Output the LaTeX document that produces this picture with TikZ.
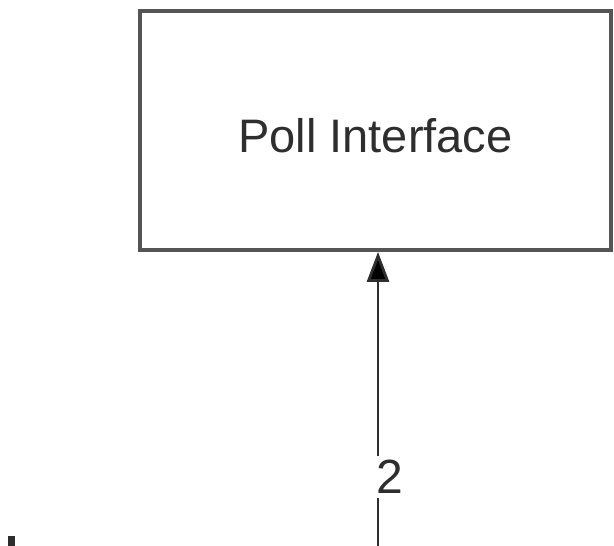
\documentclass[tikz,border=0pt]{standalone}
\usepackage{fontspec}
\setmainfont{Liberation Sans}
\usetikzlibrary{arrows.meta}
\definecolor{edge}{HTML}{555555}
\definecolor{ink}{HTML}{2E2E2E}
\tikzset{
  block/.style={draw=edge, line width=3.8pt, fill=white, minimum width=471pt,
    minimum height=239pt, inner sep=0pt},
  title/.style={text=ink, inner sep=0pt, font=\fontsize{47}{50}\selectfont},
  flow/.style={draw=ink, line width=2.8pt, -{Triangle[length=30pt,width=22pt,fill=black]}},
  tag/.style={fill=white, text=ink, inner sep=4pt, font=\fontsize{48}{50}\selectfont}
}
\begin{document}
\begin{tikzpicture}[x=1pt, y=-1pt]
  \useasboundingbox (0,0) rectangle (614,546);
  \node[block] (poll) at (375.5,130.5) {};
  \node[title] (pollname) at ([yshift=-5pt]poll.center) {Poll Interface};
  \coordinate (src) at (378,560);
  \draw[flow] (src) -- (poll.south -| src);
  \node[tag] (lbl) at (390,477) {2};
  \fill[ink] (8,536) rectangle (15,546);
\end{tikzpicture}
\end{document}
